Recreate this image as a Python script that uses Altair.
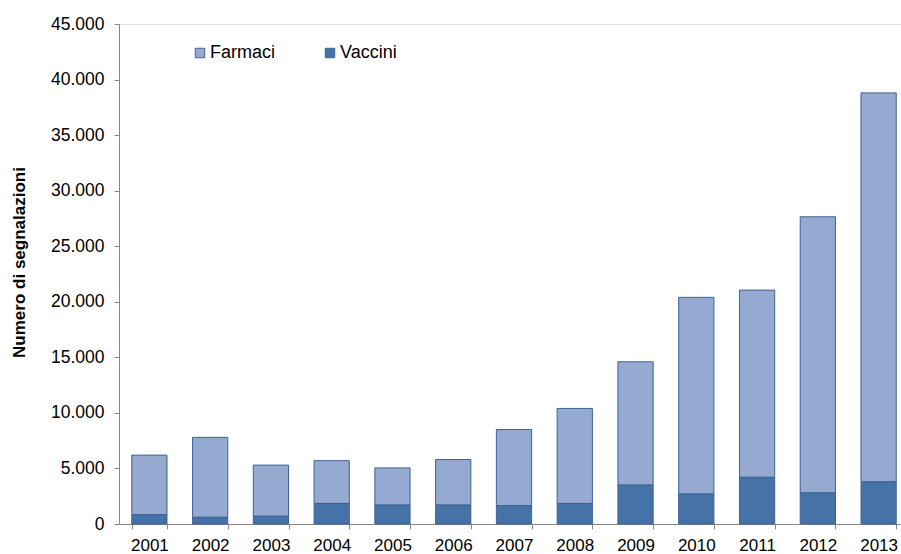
import altair as alt
import pandas as pd

years = [str(y) for y in range(2001, 2014)]
farmaci = [5350, 7200, 4600, 3850, 3350, 4100, 6850, 8550, 11100, 17700, 16850, 24850, 35000]
vaccini = [850, 600, 700, 1850, 1700, 1700, 1650, 1850, 3500, 2700, 4200, 2800, 3800]
series = ["Farmaci", "Vaccini"]
colors = ["#95A9D1", "#4572A7"]
y_ticks = [0, 5000, 10000, 15000, 20000, 25000, 30000, 35000, 40000, 45000]

rows = []
for i, yr in enumerate(years):
    rows.append({"anno": yr, "tipo": "Farmaci", "valore": farmaci[i], "ord": 1})
    rows.append({"anno": yr, "tipo": "Vaccini", "valore": vaccini[i], "ord": 0})
df = pd.DataFrame(rows)

FONT = "Liberation Sans"

chart = alt.Chart(df).mark_bar(stroke="#3F6397", strokeWidth=1).encode(
    x=alt.X(
        "anno:O",
        title=None,
        sort=years,
        scale=alt.Scale(range=[0, 790], paddingInner=0.42, paddingOuter=0.21),
        axis=alt.Axis(
            labelAngle=0, tickBand="extent", tickSize=5, tickColor="#868686",
            domainColor="#868686", labelFontSize=17, labelColor="#000000",
            labelFont=FONT, labelPadding=8, grid=False,
        ),
    ),
    y=alt.Y(
        "valore:Q",
        stack="zero",
        scale=alt.Scale(domain=[0, 45000], nice=False),
        axis=alt.Axis(
            values=y_ticks, grid=False, tickSize=5, tickColor="#868686",
            domainColor="#868686", labelFontSize=17.5, labelColor="#000000",
            labelFont=FONT, labelPadding=10,
            labelExpr="replace(format(datum.value, ',d'), ',', '.')",
            title="Numero di segnalazioni", titleFont=FONT, titleFontSize=17,
            titleFontWeight="bold", titleColor="#000000", titleAngle=-90,
            titleX=-100, titleY=238, titleAlign="center", titleBaseline="middle",
        ),
    ),
    color=alt.Color(
        "tipo:N",
        scale=alt.Scale(domain=series, range=colors),
        legend=alt.Legend(
            title=None, orient="none", legendX=72, legendY=20,
            direction="horizontal", symbolType="square", symbolSize=90,
            symbolStrokeColor="#3F6397", symbolStrokeWidth=1,
            labelFontSize=18, labelFont=FONT, labelColor="#000000",
            labelOffset=1, columnPadding=45,
        ),
    ),
    order=alt.Order("ord:Q"),
).properties(
    width=782,
    height=500,
    autosize=alt.AutoSizeParams(type="none"),
    padding={"left": 119, "top": 24, "right": 0, "bottom": 30},
).configure_view(stroke=None).configure(background="white")

chart.save("out.html", embed_options={"renderer": "svg", "actions": False})
